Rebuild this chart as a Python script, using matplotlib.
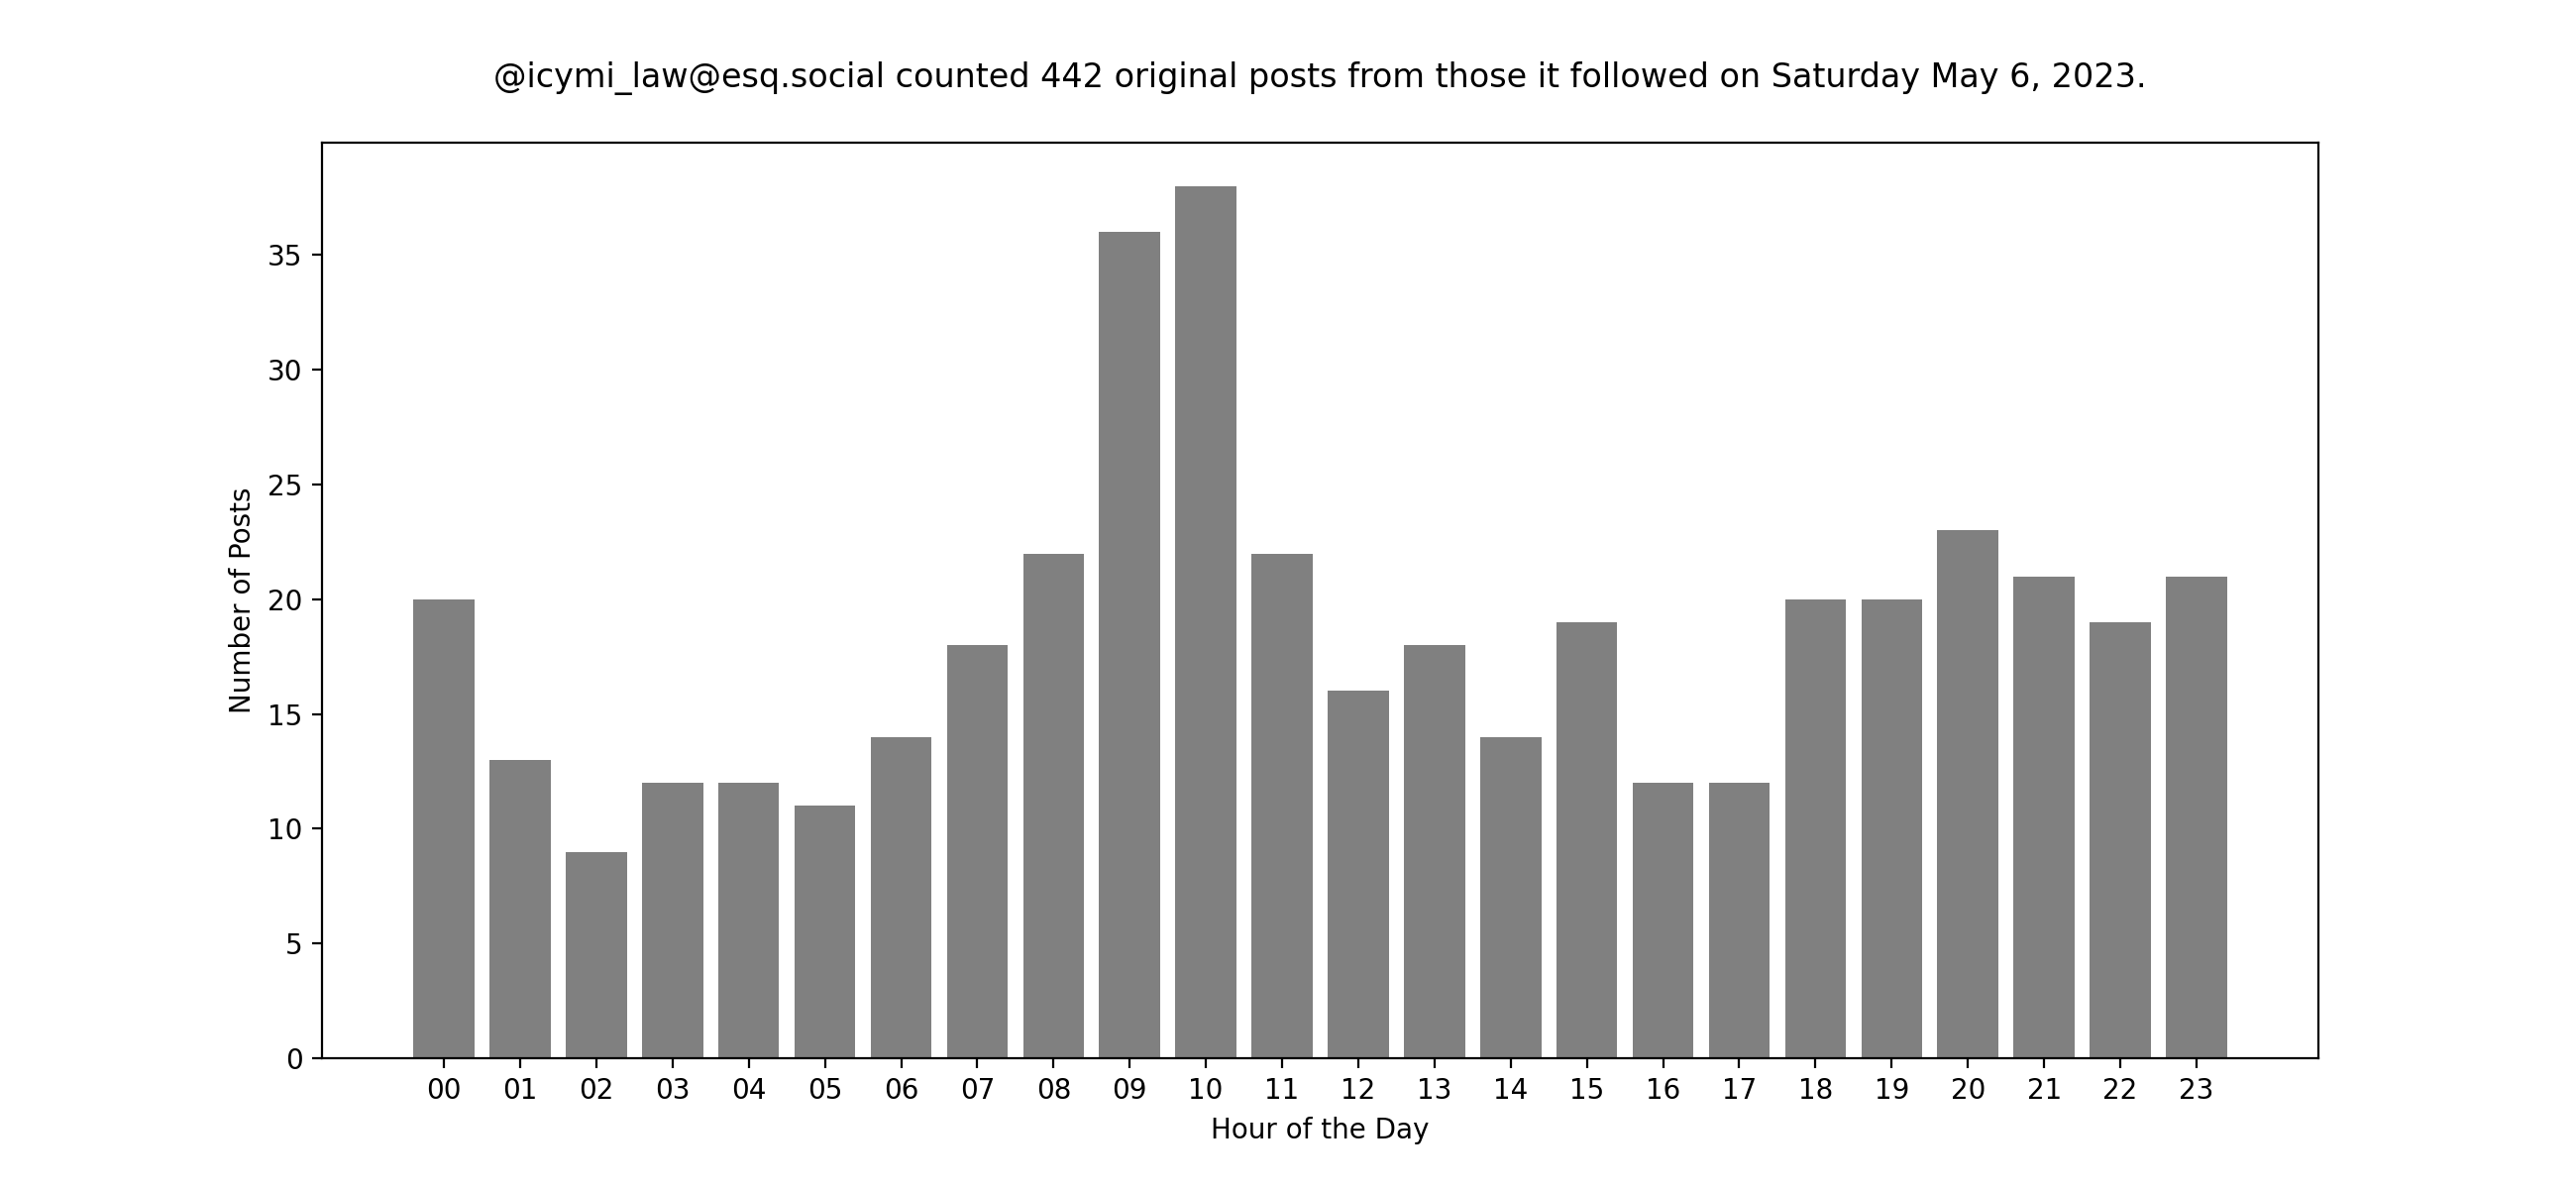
import matplotlib
matplotlib.use("Agg")
import matplotlib.pyplot as plt

# posts per hour
hours = ["00", "01", "02", "03", "04", "05", "06", "07", "08", "09", "10", "11",
         "12", "13", "14", "15", "16", "17", "18", "19", "20", "21", "22", "23"]
posts = [20, 13, 9, 12, 12, 11, 14, 18, 22, 36, 38, 22,
         16, 18, 14, 19, 12, 12, 20, 20, 23, 21, 19, 21]

title = "@icymi_law@esq.social counted 442 original posts from those it followed on Saturday May 6, 2023."

fig, ax = plt.subplots(figsize=(13, 6), dpi=200)
x = list(range(len(hours)))
ax.bar(x, posts, color="gray", width=0.8)
ax.set_xticks(x)
ax.set_xticklabels(hours)
ax.set_xlim(-1.6, 24.6)
ax.set_xlabel("Hour of the Day")
ax.set_ylabel("Number of Posts")
ax.set_title(title, pad=20)

plt.savefig("out.png")
